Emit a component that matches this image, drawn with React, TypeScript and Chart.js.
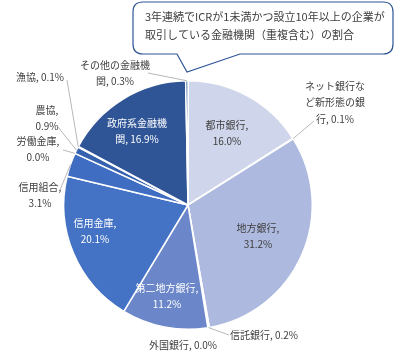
import React, { useEffect, useRef } from "react";
import { Chart, registerables } from "chart.js";
Chart.register(...registerables);

const categories = [
  "都市銀行",
  "ネット銀行など新形態の銀行",
  "地方銀行",
  "信託銀行",
  "外国銀行",
  "第二地方銀行",
  "信用金庫",
  "信用組合",
  "労働金庫",
  "農協",
  "漁協",
  "政府系金融機関",
  "その他の金融機関",
];
const shares = [16.0, 0.1, 31.2, 0.2, 0.0, 11.2, 20.1, 3.1, 0.0, 0.9, 0.1, 16.9, 0.3];
const titleLines = [
  "3年連続でICRが1未満かつ設立10年以上の企業が",
  "取引している金融機関（重複含む）の割合",
];

const colors = [
  "#CFD5EA", "#BCC5E4", "#ADB9DE", "#8FA1D5", "#7C93CF", "#6B86C9", "#4472C4",
  "#3E6DC2", "#3A67B8", "#3561AE", "#325BA4", "#2F5597", "#2B4F8E",
];

// label layout: line char counts, centre position, text colour, leader end point
const labelLayout: { wrap: number[]; x: number; y: number; white?: boolean; lead?: [number, number] }[] = [
  { wrap: [5], x: 227, y: 125 },
  { wrap: [6, 6], x: 335, y: 86, lead: [314, 121] },
  { wrap: [5], x: 258, y: 228 },
  { wrap: [], x: 264, y: 335, lead: [229, 335] },
  { wrap: [], x: 183, y: 345 },
  { wrap: [7], x: 167, y: 288, white: true },
  { wrap: [5], x: 95, y: 223, white: true },
  { wrap: [5], x: 40, y: 187, lead: [60, 190] },
  { wrap: [5], x: 38, y: 141, lead: [63, 150] },
  { wrap: [3], x: 47, y: 110, lead: [58, 127] },
  { wrap: [], x: 40, y: 77, lead: [67, 80] },
  { wrap: [6], x: 137, y: 123, white: true },
  { wrap: [7], x: 115, y: 65, lead: [148, 73] },
];

function labelLinesFor(i: number): string[] {
  const text = `${categories[i]}, ${shares[i].toFixed(1)}%`;
  const out: string[] = [];
  let pos = 0;
  for (const n of labelLayout[i].wrap) {
    out.push(text.slice(pos, pos + n).trim());
    pos += n;
  }
  out.push(text.slice(pos).trim());
  return out;
}

const FONT = '"Noto Sans CJK JP", "Noto Sans", sans-serif';

const labelPlugin = {
  id: "sliceLabels",
  afterDatasetsDraw(chart: any) {
    const ctx = chart.ctx as CanvasRenderingContext2D;
    const meta = chart.getDatasetMeta(0);
    ctx.save();
    meta.data.forEach((arc: any, i: number) => {
      const lay = labelLayout[i];
      const { x, y, startAngle, endAngle, outerRadius } = arc.getProps(
        ["x", "y", "startAngle", "endAngle", "outerRadius"],
        true
      );
      const mid = (startAngle + endAngle) / 2;
      if (lay.lead) {
        ctx.beginPath();
        ctx.strokeStyle = "#A6A6A6";
        ctx.lineWidth = 0.8;
        ctx.moveTo(lay.lead[0], lay.lead[1]);
        ctx.lineTo(x + Math.cos(mid) * outerRadius, y + Math.sin(mid) * outerRadius);
        ctx.stroke();
      }
      const lines = labelLinesFor(i);
      ctx.font = `10px ${FONT}`;
      ctx.fillStyle = lay.white ? "#FFFFFF" : "#404040";
      ctx.textAlign = "center";
      ctx.textBaseline = "middle";
      lines.forEach((ln, k) => ctx.fillText(ln, lay.x, lay.y + k * 16.5));
    });
    ctx.restore();
  },
  afterDraw(chart: any) {
    const ctx = chart.ctx as CanvasRenderingContext2D;
    ctx.save();
    const l = 133, t = 2, r = 393, b = 54, rad = 10;
    ctx.beginPath();
    ctx.moveTo(l + rad, t);
    ctx.lineTo(r - rad, t);
    ctx.quadraticCurveTo(r, t, r, t + rad);
    ctx.lineTo(r, b - rad);
    ctx.quadraticCurveTo(r, b, r - rad, b);
    ctx.lineTo(240, b);
    ctx.lineTo(187, 72);
    ctx.lineTo(177, b);
    ctx.lineTo(l + rad, b);
    ctx.quadraticCurveTo(l, b, l, b - rad);
    ctx.lineTo(l, t + rad);
    ctx.quadraticCurveTo(l, t, l + rad, t);
    ctx.closePath();
    ctx.fillStyle = "#FFFFFF";
    ctx.fill();
    ctx.strokeStyle = "#2F5597";
    ctx.lineWidth = 1.2;
    ctx.stroke();
    ctx.font = `11px ${FONT}`;
    ctx.fillStyle = "#404040";
    ctx.textAlign = "left";
    ctx.textBaseline = "middle";
    titleLines.forEach((ln, k) => ctx.fillText(ln, 145, 17 + k * 18));
    ctx.restore();
  },
};

export default function App() {
  const ref = useRef<HTMLCanvasElement | null>(null);
  useEffect(() => {
    document.body.style.margin = "0";
    if (!ref.current) return;
    const chart = new Chart(ref.current, {
      type: "pie",
      data: {
        labels: categories,
        datasets: [
          {
            data: shares,
            backgroundColor: colors,
            borderColor: "#FFFFFF",
            borderWidth: 1.5,
          },
        ],
      },
      options: {
        responsive: false,
        animation: false,
        layout: { padding: { left: 63, right: 87, top: 80, bottom: 29 } },
        plugins: {
          legend: { display: false },
          tooltip: { enabled: false },
          title: { display: false },
        },
      },
      plugins: [labelPlugin],
    });
    return () => chart.destroy();
  }, []);
  return (
    <div style={{ width: 400, height: 359, background: "#fff" }}>
      <canvas ref={ref} width={400} height={359} style={{ display: "block" }} />
    </div>
  );
}
